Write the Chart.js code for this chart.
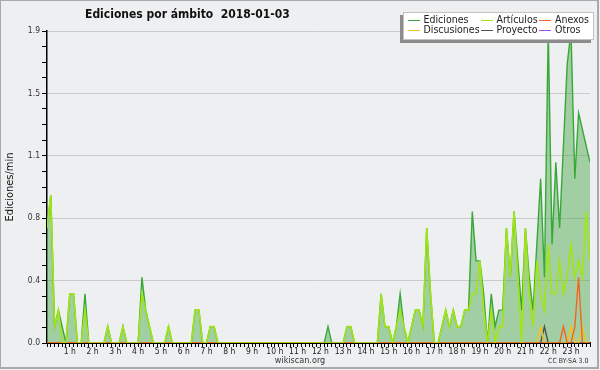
<!DOCTYPE html>
<html>
<head>
<meta charset="utf-8">
<script src="https://cdn.jsdelivr.net/npm/chart.js@4.4.0/dist/chart.umd.min.js"></script>
<style>
html, body { margin: 0; padding: 0; background: #fff; }
#wrap { position: relative; width: 600px; height: 370px; background: #eeeff1; overflow: hidden;
        font-family: "DejaVu Sans Condensed", "DejaVu Sans", sans-serif; color: #222; }
#chart { position: absolute; left: 0; top: 0; }
#title { position: absolute; left: 85px; top: 7px; font-size: 12px; font-weight: bold; line-height: 14px; white-space: pre; color: #111; }
#legend { position: absolute; left: 403px; top: 12px; width: 189px; height: 26px; background: #fff;
          border: 1px solid #c4c4c4; box-shadow: -3px 3px 0 #8c8c8c; font-size: 10.5px; }
.item { position: absolute; line-height: 10px; white-space: nowrap; }
.item i { display: inline-block; width: 12px; height: 0; border-top: 1px solid; vertical-align: middle; margin-right: 4px; }
#site { position: absolute; left: 0; width: 600px; top: 355px; text-align: center; font-size: 9px; line-height: 10px; color: #333; }
#lic { position: absolute; left: 548px; top: 357px; font-size: 7px; line-height: 8px; color: #333; }
#frame { position: absolute; left: 0; top: 0; width: 596px; height: 366px; border: 1px solid #a9a9a9;
         border-right-width: 2px; border-bottom-width: 2px; pointer-events: none; }
</style>
</head>
<body>
<div id="wrap">
  <canvas id="chart" width="600" height="370"></canvas>
  <div id="title">Ediciones por ámbito  2018-01-03</div>
  <div id="legend"></div>
  <div id="site">wikiscan.org</div>
  <div id="lic">CC BY-SA 3.0</div>
  <div id="frame"></div>
</div>
<script>
// one value every 10 minutes, 6 per hour row
const ediciones = [
  0.7, 0.9, 0.1, 0.2, 0.1, 0,
  0.3, 0.3, 0, 0, 0.3, 0,
  0, 0, 0, 0, 0.1, 0,
  0, 0, 0.1, 0, 0, 0,
  0, 0.4, 0.2, 0.1, 0, 0,
  0, 0, 0.1, 0, 0, 0,
  0, 0, 0, 0.2, 0.2, 0,
  0, 0.1, 0.1, 0, 0, 0,
  0, 0, 0, 0, 0, 0,
  0, 0, 0, 0, 0, 0,
  0, 0, 0, 0, 0, 0,
  0, 0, 0, 0, 0, 0,
  0, 0, 0.1, 0, 0, 0,
  0, 0.1, 0.1, 0, 0, 0,
  0, 0, 0, 0, 0.3, 0.1,
  0.1, 0, 0.1, 0.3, 0.1, 0,
  0.1, 0.2, 0.2, 0.1, 0.7, 0.3,
  0, 0, 0.1, 0.2, 0.1, 0.2,
  0.1, 0.1, 0.2, 0.2, 0.8, 0.5,
  0.5, 0.3, 0, 0.3, 0.1, 0.2,
  0.2, 0.7, 0.4, 0.8, 0.5, 0.2,
  0.7, 0.4, 0.2, 0.6, 1.0, 0.4,
  1.9, 0.6, 1.1, 0.7, 1.2, 1.7,
  1.9, 1.0, 1.4, 1.3, 1.2, 1.1
];
const articulos = [
  0.7, 0.9, 0.1, 0.2, 0, 0,
  0.3, 0.3, 0, 0, 0.2, 0,
  0, 0, 0, 0, 0.1, 0,
  0, 0, 0.1, 0, 0, 0,
  0, 0.3, 0.2, 0.1, 0, 0,
  0, 0, 0.1, 0, 0, 0,
  0, 0, 0, 0.2, 0.2, 0,
  0, 0.1, 0.1, 0, 0, 0,
  0, 0, 0, 0, 0, 0,
  0, 0, 0, 0, 0, 0,
  0, 0, 0, 0, 0, 0,
  0, 0, 0, 0, 0, 0,
  0, 0, 0, 0, 0, 0,
  0, 0.1, 0.1, 0, 0, 0,
  0, 0, 0, 0, 0.3, 0.1,
  0.1, 0, 0.1, 0.2, 0.1, 0,
  0.1, 0.2, 0.2, 0.1, 0.7, 0.3,
  0, 0, 0.1, 0.2, 0.1, 0.2,
  0.1, 0.1, 0.2, 0.2, 0.3, 0.3,
  0.5, 0.2, 0, 0.2, 0, 0.1,
  0.1, 0.7, 0.4, 0.8, 0.4, 0,
  0.7, 0.3, 0.1, 0.5, 0.3, 0.2,
  0.6, 0.3, 0.3, 0.5, 0.3, 0.4,
  0.6, 0.4, 0.5, 0.4, 0.8, 0.5
];
const anexos = [
  0, 0, 0, 0, 0, 0,  0, 0, 0, 0, 0, 0,  0, 0, 0, 0, 0, 0,  0, 0, 0, 0, 0, 0,
  0, 0, 0, 0, 0, 0,  0, 0, 0, 0, 0, 0,  0, 0, 0, 0, 0, 0,  0, 0, 0, 0, 0, 0,
  0, 0, 0, 0, 0, 0,  0, 0, 0, 0, 0, 0,  0, 0, 0, 0, 0, 0,  0, 0, 0, 0, 0, 0,
  0, 0, 0, 0, 0, 0,  0, 0, 0, 0, 0, 0,  0, 0, 0, 0, 0, 0,  0, 0, 0, 0, 0, 0,
  0, 0, 0, 0, 0, 0,  0, 0, 0, 0, 0, 0,  0, 0, 0, 0, 0, 0,  0, 0, 0, 0, 0, 0,
  0, 0, 0, 0, 0, 0,  0, 0, 0, 0, 0, 0,  0, 0, 0, 0, 0.1, 0,  0, 0.1, 0.4, 0, 0, 0
];
const discusiones = [
  0, 0, 0, 0, 0, 0,  0, 0, 0, 0, 0, 0,  0, 0, 0, 0, 0, 0,  0, 0, 0, 0, 0, 0,
  0, 0, 0, 0, 0, 0,  0, 0, 0, 0, 0, 0,  0, 0, 0, 0, 0, 0,  0, 0, 0, 0, 0, 0,
  0, 0, 0, 0, 0, 0,  0, 0, 0, 0, 0, 0,  0, 0, 0, 0, 0, 0,  0, 0, 0, 0, 0, 0,
  0, 0, 0, 0, 0, 0,  0, 0, 0, 0, 0, 0,  0, 0, 0, 0, 0, 0,  0, 0, 0, 0, 0, 0,
  0, 0, 0, 0, 0, 0,  0, 0, 0, 0, 0, 0,  0, 0, 0, 0, 0, 0,  0, 0, 0, 0, 0, 0,
  0, 0, 0, 0, 0, 0,  0, 0, 0, 0, 0.1, 0,  0, 0, 0, 0, 0, 0,  0.1, 0, 0, 0.1, 0, 0
];
const proyecto = [
  0, 0, 0, 0, 0, 0,  0, 0, 0, 0, 0, 0,  0, 0, 0, 0, 0, 0,  0, 0, 0, 0, 0, 0,
  0, 0, 0, 0, 0, 0,  0, 0, 0, 0, 0, 0,  0, 0, 0, 0, 0, 0,  0, 0, 0, 0, 0, 0,
  0, 0, 0, 0, 0, 0,  0, 0, 0, 0, 0, 0,  0, 0, 0, 0, 0, 0,  0, 0, 0, 0, 0, 0,
  0, 0, 0, 0, 0, 0,  0, 0, 0, 0, 0, 0,  0, 0, 0, 0, 0, 0,  0, 0, 0, 0, 0, 0,
  0, 0, 0, 0, 0, 0,  0, 0, 0, 0, 0, 0,  0, 0, 0, 0, 0, 0,  0, 0, 0, 0, 0, 0,
  0, 0, 0, 0, 0, 0,  0, 0, 0, 0, 0, 0.1,  0, 0, 0, 0, 0, 0,  0, 0, 0, 0, 0, 0
];
const otros = [
  0, 0, 0, 0, 0, 0,  0, 0, 0, 0, 0, 0,  0, 0, 0, 0, 0, 0,  0, 0, 0, 0, 0, 0,
  0, 0, 0, 0, 0, 0,  0, 0, 0, 0, 0, 0,  0, 0, 0, 0, 0, 0,  0, 0, 0, 0, 0, 0,
  0, 0, 0, 0, 0, 0,  0, 0, 0, 0, 0, 0,  0, 0, 0, 0, 0, 0,  0, 0, 0, 0, 0, 0,
  0, 0, 0, 0, 0, 0,  0, 0, 0, 0, 0, 0,  0, 0, 0, 0, 0, 0,  0, 0, 0, 0, 0, 0,
  0, 0, 0, 0, 0, 0,  0, 0, 0, 0, 0, 0,  0, 0, 0, 0, 0, 0,  0, 0, 0, 0, 0, 0,
  0, 0, 0, 0, 0, 0,  0, 0, 0, 0, 0, 0,  0, 0, 0, 0, 0, 0,  0, 0, 0, 0, 0, 0
];

const hourLabels = ['', '1 h', '2 h', '3 h', '4 h', '5 h', '6 h', '7 h', '8 h', '9 h', '10 h', '11 h',
  '12 h', '13 h', '14 h', '15 h', '16 h', '17 h', '18 h', '19 h', '20 h', '21 h', '22 h', '23 h'];

// 10 minute slots of the day
const slots = [];
for (let h = 0; h < 24; h++) {
  for (let m = 0; m < 60; m += 10) {
    slots.push(String(h).padStart(2, '0') + ':' + String(m).padStart(2, '0'));
  }
}

const series = [
  {label: 'Ediciones', data: ediciones, color: '#38a838'},
  {label: 'Artículos', data: articulos, color: '#a2e515'},
  {label: 'Anexos', data: anexos, color: '#f2651f'},
  {label: 'Discusiones', data: discusiones, color: '#f3c31c'},
  {label: 'Proyecto', data: proyecto, color: '#505050'},
  {label: 'Otros', data: otros, color: '#9a4ff0'}
];

const FONT = '"DejaVu Sans Condensed", "DejaVu Sans", sans-serif';

const datasets = series.map((s, i) => ({
  label: s.label,
  data: s.data,
  borderColor: s.color,
  backgroundColor: i === 0 ? 'rgba(56,160,56,0.42)' : s.color,
  fill: i === 0 ? 'origin' : false,
  borderWidth: i === 1 ? 1.6 : 1.4,
  pointRadius: 0,
  tension: 0,
  clip: 0,
  order: i === 0 ? 2 : 1
}));

const ctx = document.getElementById('chart');

const chart = new Chart(ctx, {
  type: 'line',
  data: { labels: slots, datasets: datasets },
  options: {
    responsive: false,
    animation: false,
    layout: { padding: { left: 0, right: 10, top: 31, bottom: 0 } },
    plugins: {
      legend: { display: false },
      tooltip: { enabled: false },
      title: { display: false }
    },
    scales: {
      x: {
        z: 1,
        afterFit: (s) => { s.height = 27; },
        grid: { drawOnChartArea: false, tickLength: 4, tickColor: '#000', tickWidth: 1 },
        border: { color: '#000', width: 2 },
        ticks: {
          autoSkip: false, maxRotation: 0, minRotation: 0, padding: 0,
          color: '#222', font: { family: FONT, size: 8.5 },
          callback: (v, i) => (i % 6 === 0 ? hourLabels[i / 6] : '')
        }
      },
      y: {
        min: 0, max: 1.9,
        afterFit: (s) => { s.width = 47; },
        grid: {
          color: (c) => (c.index % 4 === 0 ? '#cbcbcb' : 'rgba(0,0,0,0)'),
          tickColor: '#000', tickLength: 5, lineWidth: 1
        },
        border: { color: '#000', width: 1.5 },
        title: { display: true, text: 'Ediciones/min', color: '#111', font: { family: FONT, size: 11 }, padding: { top: 4, bottom: 0 } },
        ticks: {
          stepSize: 0.095, padding: 2, color: '#333', font: { family: FONT, size: 8.5 },
          callback: (v, i) => (i % 4 === 0 ? v.toFixed(1) : '')
        }
      }
    }
  }
});

// legend box, three columns like the original
const legend = document.getElementById('legend');
const cols = [3.5, 76.5, 135];
series.forEach((s, i) => {
  const col = [0, 1, 2, 0, 1, 2][i];
  const row = i < 3 ? 0 : 1;
  const el = document.createElement('div');
  el.className = 'item';
  el.style.left = cols[col] + 'px';
  el.style.top = (1 + row * 10) + 'px';
  el.innerHTML = '<i style="border-color:' + s.color + '"></i>' + s.label;
  legend.appendChild(el);
});
</script>
</body>
</html>
